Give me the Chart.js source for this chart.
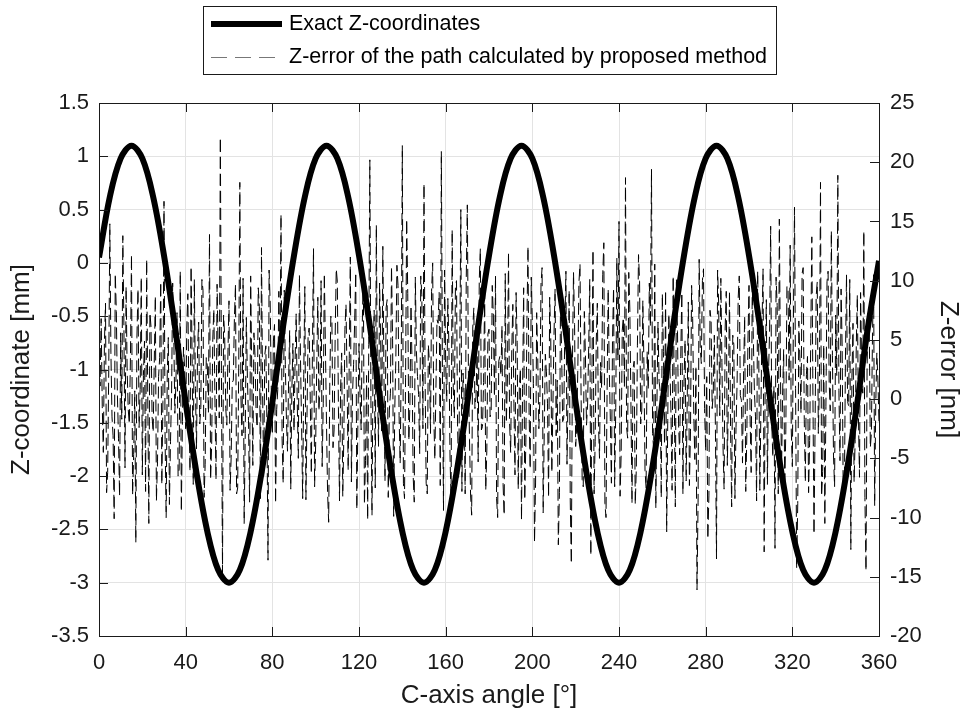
<!DOCTYPE html>
<html>
<head>
<meta charset="utf-8">
<script src="https://cdn.jsdelivr.net/npm/chart.js@4/dist/chart.umd.min.js"></script>
<style>
  html, body { margin: 0; padding: 0; background: #fff; }
  #wrap { width: 974px; height: 711px; }
</style>
</head>
<body>
<div id="wrap"><canvas id="chart" width="974" height="711"></canvas></div>
<script>
// exact Z-coordinate, read every 5 degrees (mm)
const exactZ = [
  0.05, 0.62, 0.98, 1.10, 0.98, 0.62, 0.07, -0.59, -1.31, -1.97, -2.52, -2.88, -3.00, -2.88, -2.52, -1.97, -1.31, -0.59,
  0.07, 0.62, 0.98, 1.10, 0.98, 0.62, 0.07, -0.59, -1.31, -1.97, -2.52, -2.88, -3.00, -2.88, -2.52, -1.97, -1.31, -0.59,
  0.07, 0.62, 0.98, 1.10, 0.98, 0.62, 0.07, -0.59, -1.31, -1.97, -2.52, -2.88, -3.00, -2.88, -2.52, -1.97, -1.31, -0.59,
  0.07, 0.62, 0.98, 1.10, 0.98, 0.62, 0.07, -0.59, -1.31, -1.97, -2.52, -2.88, -3.00, -2.88, -2.52, -1.97, -1.31, -0.59,
  0.02
];

// Z-error at whole degrees 0..360 (nm)
const zError = [
  3.2, 6.8, -4.5, 8.1, -6.2, 14.8, -1.5, -10.1, 7.4, -3.3,
  5.6, 13.8, -5.8, 2.4, -2.1, 12.2, -4.7, -12.1, 9.3, 0.8,
  -6.4, 4.9, 11.8, -10.5, 6.1, -2.8, 8.7, -5.3, 3.5, -7.2,
  16.7, -10.0, 5.2, -3.6, 9.8, -1.2, 7.3, -5.9, -9.5, 4.4,
  -2.5, 8.9, -6.1, 3.0, 10.1, -4.2, 6.5, -0.7, 9.2, -5.5,
  2.8, 13.9, -3.9, 7.6, -6.8, 4.1, 22.1, -14.7, 5.4, -2.2,
  8.3, -4.9, 1.6, 9.7, -7.5, 18.3, -3.1, -10.5, 6.9, -1.8,
  10.4, -5.6, 3.7, -2.4, 7.8, 12.8, -6.6, 4.5, -13.6, 8.2,
  -3.0, 6.3, -0.9, 9.1, 15.6, -7.1, 2.9, -4.4, 5.8, 0.6,
  -2.7, 7.2, -5.0, 3.4, -8.4, 9.5, -1.4, 6.0, -6.3, 12.7,
  -3.8, 8.6, 1.2, -5.7, 10.6, -2.0, -10.4, 7.0, -4.1, 5.3,
  9.9, -8.6, 3.9, -3.2, 8.0, -6.0, 12.0, 0.4, 6.6, -9.3,
  4.7, -2.6, 10.9, -5.2, -10.2, 20.2, -9.8, 7.5, 14.7, -4.0,
  5.0, 12.9, -6.9, 8.4, -1.0, 11.2, -9.9, 3.3, 9.6, -5.4,
  21.4, -8.4, 15.2, -3.5, 7.9, -6.5, 10.3, 1.9, -4.6, 8.8,
  18.2, -7.1, 4.6, -2.9, 11.5, -5.1, 6.7, 9.0, 20.9, -9.4,
  3.1, 8.5, -4.8, 14.3, -1.6, 10.0, -6.7, 16.0, 2.2, -8.0,
  16.4, -3.4, -9.8, 7.7, 0.2, -5.3, 12.7, -2.3, 8.9, -4.3,
  5.9, -1.1, 7.1, 10.4, -10.0, 3.6, 6.2, -9.8, -2.0, 12.4,
  -4.5, 8.0, -6.4, 4.8, 1.0, -10.2, 9.4, -3.7, 12.9, -5.9,
  6.4, -12.1, 7.3, -2.5, 9.7, -9.6, 3.8, -0.4, 8.6, -6.2,
  5.5, -3.1, -12.3, 8.7, -1.9, 6.1, -5.5, 9.2, -13.9, 10.7,
  -4.0, 2.6, 11.4, -6.8, 7.4, -2.2, 4.3, -13.2, 12.6, -3.6,
  8.1, -5.0, 0.9, 13.2, -10.0, 9.3, -1.7, 5.0, -7.4, 11.9,
  15.0, -4.6, 6.9, 18.7, -3.3, 7.6, -8.8, 3.2, -5.8, 12.2,
  -2.1, 8.3, -6.0, 4.0, 9.8, 19.4, -4.2, -9.2, 6.5, 0.7,
  8.9, -3.8, -11.2, 7.2, -1.3, 10.4, -9.1, 5.7, -4.7, 9.0,
  1.5, -6.9, 8.2, -2.7, 6.8, -5.1, -16.1, 11.8, 3.0, 11.0,
  -4.4, -11.8, 7.5, -0.8, 5.4, -13.5, 8.1, 10.2, -3.9, 6.0,
  -5.6, 9.1, -9.1, 4.6, -2.4, 8.5, 0.3, -5.4, 7.0, -3.0,
  9.6, -6.2, 5.1, -1.5, 10.8, -7.7, 6.3, -12.9, 8.4, 2.1,
  14.6, -4.9, -12.6, 7.9, 15.2, -6.3, 4.2, -2.6, 9.5, 13.0,
  -5.7, 16.2, -14.3, 6.6, -1.2, 11.1, -7.0, 3.6, -3.5, 13.7,
  -11.4, 8.7, -2.9, 18.3, -6.1, -10.5, 9.9, 1.4, 14.2, -4.8,
  7.1, 18.9, -5.2, 4.4, -8.3, 10.5, -0.6, -12.7, 6.4, -3.4,
  8.8, -6.6, 2.7, 14.2, -14.5, 7.3, -4.1, 5.5, -9.0, 3.9,
  -2.0
];

// Z-error at the half degrees 0.5..359.5 (nm)
const zErrorHalf = [
  1.1, -0.6, 4.8, -7.9, 2.5, 3.9, -3.1, 10.6, 0.3, -8.2,
  -1.7, 6.1, 9.5, -0.9, 3.3, -8.1, 0.7, 5.2, -2.4, 10.3,
  2.0, -7.8, 0.4, 7.3, -1.5, 3.1, -8.6, 1.9, 9.9, -0.2,
  -3.4, 2.2, -8.9, 0.5, 5.7, 1.3, -6.5, 10.8, -1.9, 2.7,
  6.0, -0.5, 11.2, -7.2, 0.9, 4.3, -2.1, 10.1, -8.3, 3.5,
  -1.2, -6.8, 5.0, 0.1, 9.7, -1.6, 2.4, 7.1, -0.8, 3.8,
  -7.7, 1.4, 6.9, -8.0, 3.0, 0.2, 10.2, -2.9, 1.8, -8.7,
  2.3, 5.6, -1.1, 9.4, -8.4, 0.6, 3.7, -2.0, 10.9, 1.0,
  4.9, -8.8, 0.8, 2.6, -3.3, 9.2, -1.7, 1.5, -7.6, 4.7,
  3.2, -0.3, 10.5, -2.2, 2.1, -8.5, 5.3, 0.0, 3.9, -7.4,
  2.8, -1.0, 10.0, -0.4, 4.4, -7.9, 1.1, 6.5, -2.6, 11.0,
  -0.7, 0.9, -8.2, 5.9, 1.6, 3.4, -7.0, 2.9, 10.7, -1.8,
  0.3, 6.2, -8.9, 2.0, 4.6, -0.1, 3.6, -7.5, 1.2, 9.8,
  -2.7, 2.4, 7.7, -8.3, 0.5, 5.1, -0.9, 11.3, -1.4, 3.0,
  -7.1, 1.8, 8.9, -0.6, 2.7, -8.7, 4.0, 0.4, 10.4, -2.5,
  1.9, -8.0, 3.1, 9.1, -1.3, 0.8, 6.4, -7.3, 2.5, 10.9,
  -0.2, 4.5, -8.6, 1.0, 9.5, -2.3, 3.5, -7.8, 0.6, 10.2,
  2.2, -8.1, 6.0, -0.8, 3.8, 10.0, -2.6, 1.4, -7.7, 5.5,
  -1.5, 9.6, 0.2, -8.4, 3.2, 2.0, -7.2, 10.6, 1.7, -2.0,
  4.1, -0.4, 9.0, -7.6, 2.6, 0.9, -8.5, 6.6, -1.1, 10.3,
  1.3, -7.0, 3.4, 0.0, 11.1, -2.8, 2.3, -8.3, 5.2, -0.6,
  9.3, 1.6, -7.9, 4.2, -1.6, 10.8, 0.7, -8.6, 2.9, 6.3,
  -2.2, 9.8, 0.3, -7.4, 3.7, -0.5, 10.1, 1.8, -8.0, 4.9,
  -1.9, 3.1, 10.5, -8.8, 0.6, 2.5, -7.1, 9.4, -0.7, 3.3,
  -8.2, 5.8, 1.0, -2.4, 10.7, -0.3, 2.6, -8.9, 4.5, 9.9,
  -1.0, 3.0, -7.5, 0.8, 6.1, -2.9, 11.4, -0.5, 1.5, -8.3,
  4.0, 9.2, -1.8, 2.7, -7.7, 0.4, 10.2, -2.1, 3.6, -8.0,
  5.0, 0.1, -7.3, 9.6, -1.2, 2.8, -8.7, 4.3, 10.0, -0.8,
  1.9, -8.1, 6.7, 0.5, -2.5, 10.9, -1.4, 3.1, -7.6, 9.1,
  0.2, -2.7, 5.4, -8.4, 1.3, 10.4, -0.1, 2.2, -7.8, 4.8,
  -1.5, 9.7, 0.6, -8.6, 3.9, -0.9, 11.0, 2.4, -7.2, 5.7,
  -2.0, 1.1, 10.3, -8.0, 2.8, 0.3, -7.5, 9.5, 1.6, -2.6,
  6.8, 0.9, -8.8, 3.4, 10.6, -1.7, 2.1, -7.9, 5.1, 0.4,
  -2.3, 9.9, 1.2, -8.2, 4.6, -0.6, 10.8, -1.0, 3.7, -7.4,
  2.0, 0.7, 9.3, -8.5, 3.2, -0.2, 10.1, 1.8, -7.0, 4.4,
  -1.3, 9.0, 0.5, -8.3, 2.7, 6.2, -2.8, 10.5, -0.4, 1.6
];

const exactStep = 5;   // degrees between exactZ samples

const xTicks = [0, 40, 80, 120, 160, 200, 240, 280, 320, 360];
const leftTicks = [-3.5, -3, -2.5, -2, -1.5, -1, -0.5, 0, 0.5, 1, 1.5];
const rightTicks = [-20, -15, -10, -5, 0, 5, 10, 15, 20, 25];

const legendLabels = ['Exact Z-coordinates', 'Z-error of the path calculated by proposed method'];

const FONT = '"Liberation Sans", Arial, Helvetica, sans-serif';
const INK = '#1a1a1a';

const exactPoints = exactZ.map((v, i) => ({ x: i * exactStep, y: v }));
const errorPoints = [];
zError.forEach((v, i) => {
  errorPoints.push({ x: i, y: v });
  if (i < zErrorHalf.length) errorPoints.push({ x: i + 0.5, y: zErrorHalf[i] });
});

// box round the plot with inward ticks
const boxPlugin = {
  id: 'box',
  afterDatasetsDraw(chart) {
    const { ctx, chartArea: a, scales } = chart;
    const len = 9;
    ctx.save();
    ctx.strokeStyle = INK;
    ctx.lineWidth = 1;
    ctx.beginPath();
    xTicks.forEach(t => {
      const px = Math.round(scales.x.getPixelForValue(t)) + 0.5;
      ctx.moveTo(px, a.bottom); ctx.lineTo(px, a.bottom - len);
      ctx.moveTo(px, a.top); ctx.lineTo(px, a.top + len);
    });
    leftTicks.forEach(t => {
      const py = Math.round(scales.y.getPixelForValue(t)) + 0.5;
      ctx.moveTo(a.left, py); ctx.lineTo(a.left + len, py);
    });
    rightTicks.forEach(t => {
      const py = Math.round(scales.y2.getPixelForValue(t)) + 0.5;
      ctx.moveTo(a.right, py); ctx.lineTo(a.right - len, py);
    });
    ctx.stroke();
    ctx.strokeRect(Math.round(a.left) + 0.5, Math.round(a.top) + 0.5,
      Math.round(a.right - a.left), Math.round(a.bottom - a.top));
    ctx.restore();
  }
};

// legend box above the plot
const legendPlugin = {
  id: 'boxLegend',
  afterDraw(chart) {
    const ctx = chart.ctx;
    const x0 = 203, y0 = 6, w = 573, h = 68;
    ctx.save();
    ctx.fillStyle = '#fff';
    ctx.fillRect(x0, y0, w, h);
    ctx.strokeStyle = INK;
    ctx.lineWidth = 1;
    ctx.strokeRect(x0 + 0.5, y0 + 0.5, w, h);

    const rows = [24, 57];
    ctx.strokeStyle = '#000';
    ctx.lineWidth = 6;
    ctx.beginPath();
    ctx.moveTo(211, rows[0]); ctx.lineTo(282, rows[0]);
    ctx.stroke();

    ctx.lineWidth = 1;
    ctx.strokeStyle = '#777';
    ctx.setLineDash([16, 8]);
    ctx.beginPath();
    ctx.moveTo(211, rows[1] + 0.5); ctx.lineTo(278, rows[1] + 0.5);
    ctx.stroke();
    ctx.setLineDash([]);

    ctx.fillStyle = '#000';
    ctx.font = '21.5px ' + FONT;
    ctx.textBaseline = 'middle';
    ctx.textAlign = 'left';
    ctx.fillText(legendLabels[0], 289, rows[0]);
    ctx.fillText(legendLabels[1], 289, rows[1]);
    ctx.restore();
  }
};

const fmt = v => String(Math.round(v * 10) / 10);

new Chart(document.getElementById('chart').getContext('2d'), {
  type: 'line',
  data: {
    datasets: [
      {
        label: legendLabels[0],
        data: exactPoints,
        yAxisID: 'y',
        borderColor: '#000',
        borderWidth: 6,
        pointRadius: 0,
        tension: 0.35,
        fill: false,
        order: 0
      },
      {
        label: legendLabels[1],
        data: errorPoints,
        yAxisID: 'y2',
        borderColor: '#000',
        borderWidth: 1,
        borderDash: [12, 5],
        pointRadius: 0,
        tension: 0,
        fill: false,
        order: 1
      }
    ]
  },
  plugins: [boxPlugin, legendPlugin],
  options: {
    responsive: false,
    animation: false,
    layout: { padding: { top: 103, left: 0, right: 0, bottom: 0 } },
    plugins: {
      legend: { display: false },
      tooltip: { enabled: false }
    },
    scales: {
      x: {
        type: 'linear',
        min: 0,
        max: 360,
        afterBuildTicks: s => { s.ticks = xTicks.map(v => ({ value: v })); },
        afterFit: s => { s.height = 75; },
        grid: { color: '#e3e3e3', drawTicks: false },
        border: { display: false },
        ticks: { color: INK, font: { family: FONT, size: 22 }, padding: 14, maxRotation: 0, callback: fmt },
        title: { display: true, text: 'C-axis angle [°]', color: INK, font: { family: FONT, size: 26, lineHeight: 1.15 }, padding: { top: 0, bottom: 0 } }
      },
      y: {
        position: 'left',
        min: -3.5,
        max: 1.5,
        afterBuildTicks: s => { s.ticks = leftTicks.map(v => ({ value: v })); },
        afterFit: s => { s.width = 99; },
        grid: { color: '#e3e3e3', drawTicks: false },
        border: { display: false },
        ticks: { color: INK, font: { family: FONT, size: 22 }, padding: 10, callback: fmt },
        title: { display: true, text: 'Z-coordinate [mm]', color: INK, font: { family: FONT, size: 26, lineHeight: 1 }, padding: { top: 9, bottom: 0 } }
      },
      y2: {
        position: 'right',
        min: -20,
        max: 25,
        afterBuildTicks: s => { s.ticks = rightTicks.map(v => ({ value: v })); },
        afterFit: s => { s.width = 95; },
        grid: { drawOnChartArea: false, drawTicks: false },
        border: { display: false },
        ticks: { color: INK, font: { family: FONT, size: 22 }, padding: 11, callback: fmt },
        title: { display: true, text: 'Z-error [nm]', color: INK, font: { family: FONT, size: 26, lineHeight: 1 }, padding: { top: 13, bottom: 0 } }
      }
    }
  }
});
</script>
</body>
</html>
